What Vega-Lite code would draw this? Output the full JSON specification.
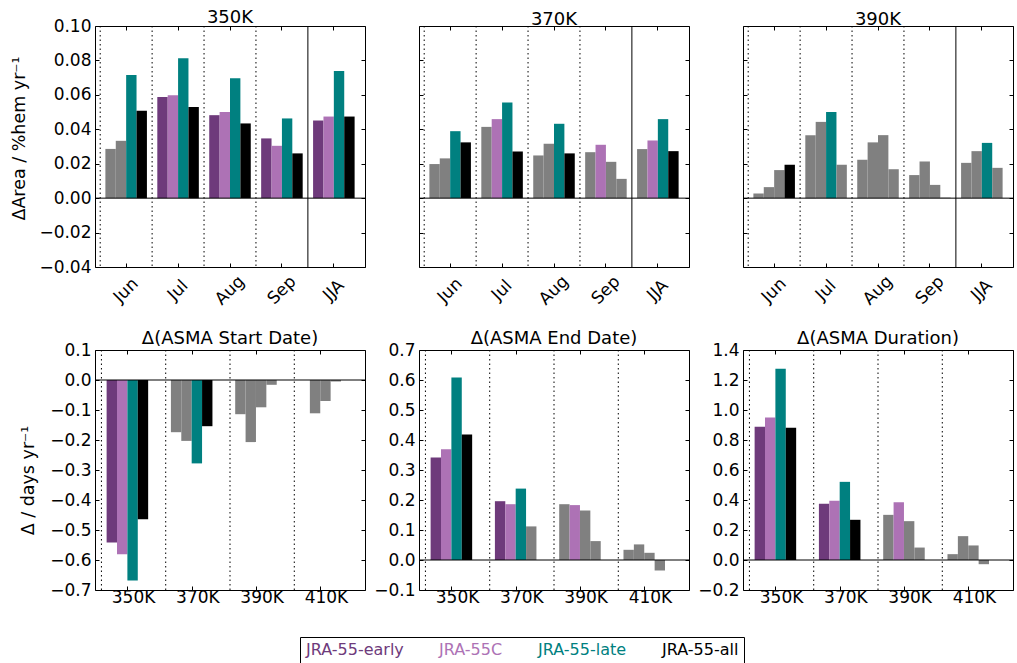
{
  "$schema": "https://vega.github.io/schema/vega-lite/v6.json",
  "padding": {"left": 9, "top": 8, "right": 0, "bottom": 0},
  "data": {"values": [
    {"panel":"350K","cat":"Jun","series":"JRA-55-early","value":0.0286,"sig":0},
    {"panel":"350K","cat":"Jun","series":"JRA-55C","value":0.0333,"sig":0},
    {"panel":"350K","cat":"Jun","series":"JRA-55-late","value":0.0715,"sig":1},
    {"panel":"350K","cat":"Jun","series":"JRA-55-all","value":0.0507,"sig":1},
    {"panel":"350K","cat":"Jul","series":"JRA-55-early","value":0.0587,"sig":1},
    {"panel":"350K","cat":"Jul","series":"JRA-55C","value":0.0598,"sig":1},
    {"panel":"350K","cat":"Jul","series":"JRA-55-late","value":0.0813,"sig":1},
    {"panel":"350K","cat":"Jul","series":"JRA-55-all","value":0.0530,"sig":1},
    {"panel":"350K","cat":"Aug","series":"JRA-55-early","value":0.0482,"sig":1},
    {"panel":"350K","cat":"Aug","series":"JRA-55C","value":0.0500,"sig":1},
    {"panel":"350K","cat":"Aug","series":"JRA-55-late","value":0.0697,"sig":1},
    {"panel":"350K","cat":"Aug","series":"JRA-55-all","value":0.0434,"sig":1},
    {"panel":"350K","cat":"Sep","series":"JRA-55-early","value":0.0347,"sig":1},
    {"panel":"350K","cat":"Sep","series":"JRA-55C","value":0.0304,"sig":1},
    {"panel":"350K","cat":"Sep","series":"JRA-55-late","value":0.0463,"sig":1},
    {"panel":"350K","cat":"Sep","series":"JRA-55-all","value":0.0260,"sig":1},
    {"panel":"350K","cat":"JJA","series":"JRA-55-early","value":0.0451,"sig":1},
    {"panel":"350K","cat":"JJA","series":"JRA-55C","value":0.0474,"sig":1},
    {"panel":"350K","cat":"JJA","series":"JRA-55-late","value":0.0739,"sig":1},
    {"panel":"350K","cat":"JJA","series":"JRA-55-all","value":0.0474,"sig":1},
    {"panel":"370K","cat":"Jun","series":"JRA-55-early","value":0.0198,"sig":0},
    {"panel":"370K","cat":"Jun","series":"JRA-55C","value":0.0231,"sig":0},
    {"panel":"370K","cat":"Jun","series":"JRA-55-late","value":0.0389,"sig":1},
    {"panel":"370K","cat":"Jun","series":"JRA-55-all","value":0.0324,"sig":1},
    {"panel":"370K","cat":"Jul","series":"JRA-55-early","value":0.0414,"sig":0},
    {"panel":"370K","cat":"Jul","series":"JRA-55C","value":0.0459,"sig":1},
    {"panel":"370K","cat":"Jul","series":"JRA-55-late","value":0.0556,"sig":1},
    {"panel":"370K","cat":"Jul","series":"JRA-55-all","value":0.0271,"sig":1},
    {"panel":"370K","cat":"Aug","series":"JRA-55-early","value":0.0248,"sig":0},
    {"panel":"370K","cat":"Aug","series":"JRA-55C","value":0.0316,"sig":0},
    {"panel":"370K","cat":"Aug","series":"JRA-55-late","value":0.0432,"sig":1},
    {"panel":"370K","cat":"Aug","series":"JRA-55-all","value":0.0260,"sig":1},
    {"panel":"370K","cat":"Sep","series":"JRA-55-early","value":0.0267,"sig":0},
    {"panel":"370K","cat":"Sep","series":"JRA-55C","value":0.0310,"sig":1},
    {"panel":"370K","cat":"Sep","series":"JRA-55-late","value":0.0211,"sig":0},
    {"panel":"370K","cat":"Sep","series":"JRA-55-all","value":0.0112,"sig":0},
    {"panel":"370K","cat":"JJA","series":"JRA-55-early","value":0.0285,"sig":0},
    {"panel":"370K","cat":"JJA","series":"JRA-55C","value":0.0335,"sig":1},
    {"panel":"370K","cat":"JJA","series":"JRA-55-late","value":0.0459,"sig":1},
    {"panel":"370K","cat":"JJA","series":"JRA-55-all","value":0.0273,"sig":1},
    {"panel":"390K","cat":"Jun","series":"JRA-55-early","value":0.0027,"sig":0},
    {"panel":"390K","cat":"Jun","series":"JRA-55C","value":0.0064,"sig":0},
    {"panel":"390K","cat":"Jun","series":"JRA-55-late","value":0.0163,"sig":0},
    {"panel":"390K","cat":"Jun","series":"JRA-55-all","value":0.0194,"sig":1},
    {"panel":"390K","cat":"Jul","series":"JRA-55-early","value":0.0366,"sig":0},
    {"panel":"390K","cat":"Jul","series":"JRA-55C","value":0.0443,"sig":0},
    {"panel":"390K","cat":"Jul","series":"JRA-55-late","value":0.0501,"sig":1},
    {"panel":"390K","cat":"Jul","series":"JRA-55-all","value":0.0194,"sig":0},
    {"panel":"390K","cat":"Aug","series":"JRA-55-early","value":0.0223,"sig":0},
    {"panel":"390K","cat":"Aug","series":"JRA-55C","value":0.0324,"sig":0},
    {"panel":"390K","cat":"Aug","series":"JRA-55-late","value":0.0366,"sig":0},
    {"panel":"390K","cat":"Aug","series":"JRA-55-all","value":0.0168,"sig":0},
    {"panel":"390K","cat":"Sep","series":"JRA-55-early","value":0.0134,"sig":0},
    {"panel":"390K","cat":"Sep","series":"JRA-55C","value":0.0213,"sig":0},
    {"panel":"390K","cat":"Sep","series":"JRA-55-late","value":0.0077,"sig":0},
    {"panel":"390K","cat":"Sep","series":"JRA-55-all","value":0.0003,"sig":0},
    {"panel":"390K","cat":"JJA","series":"JRA-55-early","value":0.0205,"sig":0},
    {"panel":"390K","cat":"JJA","series":"JRA-55C","value":0.0273,"sig":0},
    {"panel":"390K","cat":"JJA","series":"JRA-55-late","value":0.0321,"sig":1},
    {"panel":"390K","cat":"JJA","series":"JRA-55-all","value":0.0176,"sig":0},
    {"panel":"Start","cat":"350K","series":"JRA-55-early","value":-0.542,"sig":1},
    {"panel":"Start","cat":"350K","series":"JRA-55C","value":-0.581,"sig":1},
    {"panel":"Start","cat":"350K","series":"JRA-55-late","value":-0.668,"sig":1},
    {"panel":"Start","cat":"350K","series":"JRA-55-all","value":-0.464,"sig":1},
    {"panel":"Start","cat":"370K","series":"JRA-55-early","value":-0.174,"sig":0},
    {"panel":"Start","cat":"370K","series":"JRA-55C","value":-0.203,"sig":0},
    {"panel":"Start","cat":"370K","series":"JRA-55-late","value":-0.278,"sig":1},
    {"panel":"Start","cat":"370K","series":"JRA-55-all","value":-0.154,"sig":1},
    {"panel":"Start","cat":"390K","series":"JRA-55-early","value":-0.114,"sig":0},
    {"panel":"Start","cat":"390K","series":"JRA-55C","value":-0.207,"sig":0},
    {"panel":"Start","cat":"390K","series":"JRA-55-late","value":-0.091,"sig":0},
    {"panel":"Start","cat":"390K","series":"JRA-55-all","value":-0.016,"sig":0},
    {"panel":"Start","cat":"410K","series":"JRA-55-early","value":0,"sig":0},
    {"panel":"Start","cat":"410K","series":"JRA-55C","value":-0.111,"sig":0},
    {"panel":"Start","cat":"410K","series":"JRA-55-late","value":-0.070,"sig":0},
    {"panel":"Start","cat":"410K","series":"JRA-55-all","value":-0.005,"sig":0},
    {"panel":"End","cat":"350K","series":"JRA-55-early","value":0.342,"sig":1},
    {"panel":"End","cat":"350K","series":"JRA-55C","value":0.369,"sig":1},
    {"panel":"End","cat":"350K","series":"JRA-55-late","value":0.608,"sig":1},
    {"panel":"End","cat":"350K","series":"JRA-55-all","value":0.418,"sig":1},
    {"panel":"End","cat":"370K","series":"JRA-55-early","value":0.196,"sig":1},
    {"panel":"End","cat":"370K","series":"JRA-55C","value":0.186,"sig":1},
    {"panel":"End","cat":"370K","series":"JRA-55-late","value":0.238,"sig":1},
    {"panel":"End","cat":"370K","series":"JRA-55-all","value":0.112,"sig":0},
    {"panel":"End","cat":"390K","series":"JRA-55-early","value":0.186,"sig":0},
    {"panel":"End","cat":"390K","series":"JRA-55C","value":0.183,"sig":1},
    {"panel":"End","cat":"390K","series":"JRA-55-late","value":0.165,"sig":0},
    {"panel":"End","cat":"390K","series":"JRA-55-all","value":0.063,"sig":0},
    {"panel":"End","cat":"410K","series":"JRA-55-early","value":0.034,"sig":0},
    {"panel":"End","cat":"410K","series":"JRA-55C","value":0.052,"sig":0},
    {"panel":"End","cat":"410K","series":"JRA-55-late","value":0.024,"sig":0},
    {"panel":"End","cat":"410K","series":"JRA-55-all","value":-0.035,"sig":0},
    {"panel":"Duration","cat":"350K","series":"JRA-55-early","value":0.888,"sig":1},
    {"panel":"Duration","cat":"350K","series":"JRA-55C","value":0.950,"sig":1},
    {"panel":"Duration","cat":"350K","series":"JRA-55-late","value":1.275,"sig":1},
    {"panel":"Duration","cat":"350K","series":"JRA-55-all","value":0.881,"sig":1},
    {"panel":"Duration","cat":"370K","series":"JRA-55-early","value":0.375,"sig":1},
    {"panel":"Duration","cat":"370K","series":"JRA-55C","value":0.395,"sig":1},
    {"panel":"Duration","cat":"370K","series":"JRA-55-late","value":0.521,"sig":1},
    {"panel":"Duration","cat":"370K","series":"JRA-55-all","value":0.268,"sig":1},
    {"panel":"Duration","cat":"390K","series":"JRA-55-early","value":0.301,"sig":0},
    {"panel":"Duration","cat":"390K","series":"JRA-55C","value":0.385,"sig":1},
    {"panel":"Duration","cat":"390K","series":"JRA-55-late","value":0.259,"sig":0},
    {"panel":"Duration","cat":"390K","series":"JRA-55-all","value":0.083,"sig":0},
    {"panel":"Duration","cat":"410K","series":"JRA-55-early","value":0.039,"sig":0},
    {"panel":"Duration","cat":"410K","series":"JRA-55C","value":0.159,"sig":0},
    {"panel":"Duration","cat":"410K","series":"JRA-55-late","value":0.097,"sig":0},
    {"panel":"Duration","cat":"410K","series":"JRA-55-all","value":-0.028,"sig":0}
  ]},
  "columns": 3,
  "spacing": {"row": 83, "column": 54},
  "bounds": "flush",
  "resolve": {"scale": {"x": "independent", "y": "independent", "color": "shared"}},
  "concat": [
    {
      "width": 270, "height": 241, "title": {"text": "350K", "offset": -10},
      "transform": [{"filter": "datum.panel == '350K'"}],
      "layer": [
        {"mark": {"type": "bar"},
         "encoding": {
           "x": {"field": "cat", "type": "nominal", "sort": ["Jun","Jul","Aug","Sep","JJA"], "scale": {"paddingInner": 0, "paddingOuter": 0.1},
                 "axis": {"orient": "bottom", "title": null, "labelAngle": -45, "labelAlign": "center", "labelBaseline": "middle", "labelPadding": 27, "bandPosition": 0.5}},
           "xOffset": {"field": "series", "type": "nominal", "sort": ["JRA-55-early","JRA-55C","JRA-55-late","JRA-55-all"], "scale": {"paddingInner": 0, "paddingOuter": 0.5}},
           "y": {"field": "value", "type": "quantitative", "scale": {"domain": [-0.04, 0.1], "nice": false},
                 "axis": {"orient": "left", "values": [-0.04,-0.02,0,0.02,0.04,0.06,0.08,0.1], "format": ".2f", "labelPadding": 8, "title": "ΔArea / %hem yr⁻¹", "titleX": -71, "titleY": 112, "titleBaseline": "alphabetic", "titleAngle": 270}},
           "color": {"field": "series", "type": "nominal", "sort": ["JRA-55-early","JRA-55C","JRA-55-late","JRA-55-all"],
                     "scale": {"domain": ["JRA-55-early","JRA-55C","JRA-55-late","JRA-55-all"], "range": ["#6e3a7b","#ad72b5","#008080","#000000"]},
                     "condition": {"test": "datum.sig == 0", "value": "#808080"},
                     "legend": {"orient": "none", "legendX": 205, "legendY": 611, "direction": "horizontal", "title": null,
                                "symbolSize": 0, "symbolOpacity": 0, "symbolStrokeWidth": 0, "labelOffset": -15,
                                "columnPadding": 34, "padding": 5, "strokeColor": "black", "fillColor": "white",
                                "labelFontSize": 16, "labelFont": "DejaVu Sans", "labelLimit": 300,
                                "labelColor": {"expr": "datum.value == 'JRA-55-early' ? '#6e3a7b' : datum.value == 'JRA-55C' ? '#ad72b5' : datum.value == 'JRA-55-late' ? '#008080' : '#000000'"}}}
         }},
        {"transform": [{"filter": "datum.series == 'JRA-55-early'"}],
         "mark": {"type": "rule", "color": "black", "strokeWidth": 1},
         "encoding": {
           "x": {"field": "cat", "type": "nominal", "sort": ["Jun","Jul","Aug","Sep","JJA"], "bandPosition": 0,
                 "axis": {"orient": "top", "title": null, "labels": false, "bandPosition": 0.5}},
           "strokeDash": {"condition": {"test": "datum.cat == 'JJA'", "value": [1, 0]}, "value": [1.5, 3]}
         }},
        {"data": {"values": [{}]},
         "mark": {"type": "rule", "color": "black", "strokeWidth": 1},
         "encoding": {"y": {"datum": 0, "type": "quantitative", "axis": {"orient": "right", "labels": false, "title": null, "values": [-0.04,-0.02,0,0.02,0.04,0.06,0.08,0.1]}}}}
      ],
      "resolve": {"axis": {"x": "independent", "y": "independent"}}
    },
    {
      "width": 270, "height": 241, "title": {"text": "370K", "offset": -3},
      "transform": [{"filter": "datum.panel == '370K'"}],
      "layer": [
        {"mark": {"type": "bar"},
         "encoding": {
           "x": {"field": "cat", "type": "nominal", "sort": ["Jun","Jul","Aug","Sep","JJA"], "scale": {"paddingInner": 0, "paddingOuter": 0.1},
                 "axis": {"orient": "bottom", "title": null, "labelAngle": -45, "labelAlign": "center", "labelBaseline": "middle", "labelPadding": 27, "bandPosition": 0.5}},
           "xOffset": {"field": "series", "type": "nominal", "sort": ["JRA-55-early","JRA-55C","JRA-55-late","JRA-55-all"], "scale": {"paddingInner": 0, "paddingOuter": 0.5}},
           "y": {"field": "value", "type": "quantitative", "scale": {"domain": [-0.04, 0.1], "nice": false},
                 "axis": {"orient": "left", "values": [-0.04,-0.02,0,0.02,0.04,0.06,0.08,0.1], "labels": false, "title": null}},
           "color": {"field": "series", "type": "nominal", "sort": ["JRA-55-early","JRA-55C","JRA-55-late","JRA-55-all"],
                     "condition": {"test": "datum.sig == 0", "value": "#808080"}}
         }},
        {"transform": [{"filter": "datum.series == 'JRA-55-early'"}],
         "mark": {"type": "rule", "color": "black", "strokeWidth": 1},
         "encoding": {
           "x": {"field": "cat", "type": "nominal", "sort": ["Jun","Jul","Aug","Sep","JJA"], "bandPosition": 0,
                 "axis": {"orient": "top", "title": null, "labels": false, "bandPosition": 0.5}},
           "strokeDash": {"condition": {"test": "datum.cat == 'JJA'", "value": [1, 0]}, "value": [1.5, 3]}
         }},
        {"data": {"values": [{}]},
         "mark": {"type": "rule", "color": "black", "strokeWidth": 1},
         "encoding": {"y": {"datum": 0, "type": "quantitative", "axis": {"orient": "right", "labels": false, "title": null, "values": [-0.04,-0.02,0,0.02,0.04,0.06,0.08,0.1]}}}}
      ],
      "resolve": {"axis": {"x": "independent", "y": "independent"}}
    },
    {
      "width": 270, "height": 241, "title": {"text": "390K", "offset": -3},
      "transform": [{"filter": "datum.panel == '390K'"}],
      "layer": [
        {"mark": {"type": "bar"},
         "encoding": {
           "x": {"field": "cat", "type": "nominal", "sort": ["Jun","Jul","Aug","Sep","JJA"], "scale": {"paddingInner": 0, "paddingOuter": 0.1},
                 "axis": {"orient": "bottom", "title": null, "labelAngle": -45, "labelAlign": "center", "labelBaseline": "middle", "labelPadding": 27, "bandPosition": 0.5}},
           "xOffset": {"field": "series", "type": "nominal", "sort": ["JRA-55-early","JRA-55C","JRA-55-late","JRA-55-all"], "scale": {"paddingInner": 0, "paddingOuter": 0.5}},
           "y": {"field": "value", "type": "quantitative", "scale": {"domain": [-0.04, 0.1], "nice": false},
                 "axis": {"orient": "left", "values": [-0.04,-0.02,0,0.02,0.04,0.06,0.08,0.1], "labels": false, "title": null}},
           "color": {"field": "series", "type": "nominal", "sort": ["JRA-55-early","JRA-55C","JRA-55-late","JRA-55-all"],
                     "condition": {"test": "datum.sig == 0", "value": "#808080"}}
         }},
        {"transform": [{"filter": "datum.series == 'JRA-55-early'"}],
         "mark": {"type": "rule", "color": "black", "strokeWidth": 1},
         "encoding": {
           "x": {"field": "cat", "type": "nominal", "sort": ["Jun","Jul","Aug","Sep","JJA"], "bandPosition": 0,
                 "axis": {"orient": "top", "title": null, "labels": false, "bandPosition": 0.5}},
           "strokeDash": {"condition": {"test": "datum.cat == 'JJA'", "value": [1, 0]}, "value": [1.5, 3]}
         }},
        {"data": {"values": [{}]},
         "mark": {"type": "rule", "color": "black", "strokeWidth": 1},
         "encoding": {"y": {"datum": 0, "type": "quantitative", "axis": {"orient": "right", "labels": false, "title": null, "values": [-0.04,-0.02,0,0.02,0.04,0.06,0.08,0.1]}}}}
      ],
      "resolve": {"axis": {"x": "independent", "y": "independent"}}
    },
    {
      "width": 270, "height": 240, "title": {"text": "Δ(ASMA Start Date)", "offset": -7},
      "transform": [{"filter": "datum.panel == 'Start'"}],
      "layer": [
        {"mark": {"type": "bar"},
         "encoding": {
           "x": {"field": "cat", "type": "nominal", "sort": ["350K","370K","390K","410K"], "scale": {"paddingInner": 0, "paddingOuter": 0.1},
                 "axis": {"orient": "bottom", "title": null, "labelAngle": 0, "labelPadding": 3, "bandPosition": 0.41}},
           "xOffset": {"field": "series", "type": "nominal", "sort": ["JRA-55-early","JRA-55C","JRA-55-late","JRA-55-all"], "scale": {"paddingInner": 0, "paddingOuter": 0.5}},
           "y": {"field": "value", "type": "quantitative", "scale": {"domain": [-0.7, 0.1], "nice": false},
                 "axis": {"orient": "left", "values": [-0.7,-0.6,-0.5,-0.4,-0.3,-0.2,-0.1,0,0.1], "format": ".1f", "labelPadding": 8, "title": "Δ / days yr⁻¹", "titleX": -62, "titleY": 130, "titleBaseline": "alphabetic", "titleAngle": 270}},
           "color": {"field": "series", "type": "nominal", "sort": ["JRA-55-early","JRA-55C","JRA-55-late","JRA-55-all"],
                     "condition": {"test": "datum.sig == 0", "value": "#808080"}}
         }},
        {"transform": [{"filter": "datum.series == 'JRA-55-early'"}],
         "mark": {"type": "rule", "color": "black", "strokeWidth": 1, "strokeDash": [1.5, 3]},
         "encoding": {
           "x": {"field": "cat", "type": "nominal", "sort": ["350K","370K","390K","410K"], "bandPosition": 0,
                 "axis": {"orient": "top", "title": null, "labels": false, "bandPosition": 0.41}}
         }},
        {"data": {"values": [{}]},
         "mark": {"type": "rule", "color": "black", "strokeWidth": 1},
         "encoding": {"y": {"datum": 0, "type": "quantitative", "axis": {"orient": "right", "labels": false, "title": null, "values": [-0.7,-0.6,-0.5,-0.4,-0.3,-0.2,-0.1,0,0.1]}}}}
      ],
      "resolve": {"axis": {"x": "independent", "y": "independent"}}
    },
    {
      "width": 270, "height": 240, "title": {"text": "Δ(ASMA End Date)", "offset": -7},
      "transform": [{"filter": "datum.panel == 'End'"}],
      "layer": [
        {"mark": {"type": "bar"},
         "encoding": {
           "x": {"field": "cat", "type": "nominal", "sort": ["350K","370K","390K","410K"], "scale": {"paddingInner": 0, "paddingOuter": 0.1},
                 "axis": {"orient": "bottom", "title": null, "labelAngle": 0, "labelPadding": 3, "bandPosition": 0.41}},
           "xOffset": {"field": "series", "type": "nominal", "sort": ["JRA-55-early","JRA-55C","JRA-55-late","JRA-55-all"], "scale": {"paddingInner": 0, "paddingOuter": 0.5}},
           "y": {"field": "value", "type": "quantitative", "scale": {"domain": [-0.1, 0.7], "nice": false},
                 "axis": {"orient": "left", "values": [-0.1,0,0.1,0.2,0.3,0.4,0.5,0.6,0.7], "format": ".1f", "labelPadding": 8, "title": null}},
           "color": {"field": "series", "type": "nominal", "sort": ["JRA-55-early","JRA-55C","JRA-55-late","JRA-55-all"],
                     "condition": {"test": "datum.sig == 0", "value": "#808080"}}
         }},
        {"transform": [{"filter": "datum.series == 'JRA-55-early'"}],
         "mark": {"type": "rule", "color": "black", "strokeWidth": 1, "strokeDash": [1.5, 3]},
         "encoding": {
           "x": {"field": "cat", "type": "nominal", "sort": ["350K","370K","390K","410K"], "bandPosition": 0,
                 "axis": {"orient": "top", "title": null, "labels": false, "bandPosition": 0.41}}
         }},
        {"data": {"values": [{}]},
         "mark": {"type": "rule", "color": "black", "strokeWidth": 1},
         "encoding": {"y": {"datum": 0, "type": "quantitative", "axis": {"orient": "right", "labels": false, "title": null, "values": [-0.1,0,0.1,0.2,0.3,0.4,0.5,0.6,0.7]}}}}
      ],
      "resolve": {"axis": {"x": "independent", "y": "independent"}}
    },
    {
      "width": 270, "height": 240, "title": {"text": "Δ(ASMA Duration)", "offset": -7},
      "transform": [{"filter": "datum.panel == 'Duration'"}],
      "layer": [
        {"mark": {"type": "bar"},
         "encoding": {
           "x": {"field": "cat", "type": "nominal", "sort": ["350K","370K","390K","410K"], "scale": {"paddingInner": 0, "paddingOuter": 0.1},
                 "axis": {"orient": "bottom", "title": null, "labelAngle": 0, "labelPadding": 3, "bandPosition": 0.41}},
           "xOffset": {"field": "series", "type": "nominal", "sort": ["JRA-55-early","JRA-55C","JRA-55-late","JRA-55-all"], "scale": {"paddingInner": 0, "paddingOuter": 0.5}},
           "y": {"field": "value", "type": "quantitative", "scale": {"domain": [-0.2, 1.4], "nice": false},
                 "axis": {"orient": "left", "values": [-0.2,0,0.2,0.4,0.6,0.8,1.0,1.2,1.4], "format": ".1f", "labelPadding": 8, "title": null}},
           "color": {"field": "series", "type": "nominal", "sort": ["JRA-55-early","JRA-55C","JRA-55-late","JRA-55-all"],
                     "condition": {"test": "datum.sig == 0", "value": "#808080"}}
         }},
        {"transform": [{"filter": "datum.series == 'JRA-55-early'"}],
         "mark": {"type": "rule", "color": "black", "strokeWidth": 1, "strokeDash": [1.5, 3]},
         "encoding": {
           "x": {"field": "cat", "type": "nominal", "sort": ["350K","370K","390K","410K"], "bandPosition": 0,
                 "axis": {"orient": "top", "title": null, "labels": false, "bandPosition": 0.41}}
         }},
        {"data": {"values": [{}]},
         "mark": {"type": "rule", "color": "black", "strokeWidth": 1},
         "encoding": {"y": {"datum": 0, "type": "quantitative", "axis": {"orient": "right", "labels": false, "title": null, "values": [-0.2,0,0.2,0.4,0.6,0.8,1.0,1.2,1.4]}}}}
      ],
      "resolve": {"axis": {"x": "independent", "y": "independent"}}
    }
  ],
  "config": {
    "font": "DejaVu Sans",
    "view": {"stroke": "black", "strokeWidth": 1},
    "bar": {"strokeWidth": 0},
    "axis": {"domain": false, "grid": false, "tickColor": "black", "tickSize": -4, "tickWidth": 1,
             "labelColor": "black", "labelFontSize": 17, "labelFont": "DejaVu Sans",
             "titleFont": "DejaVu Sans", "titleFontSize": 17.5, "titleFontWeight": "normal", "titleColor": "black",
             "labelOverlap": false, "labelBound": false, "labelFlush": false},
    "title": {"font": "DejaVu Sans", "fontSize": 18, "fontWeight": "normal", "color": "black", "baseline": "alphabetic", "anchor": "middle", "frame": "group"}
  }
}
